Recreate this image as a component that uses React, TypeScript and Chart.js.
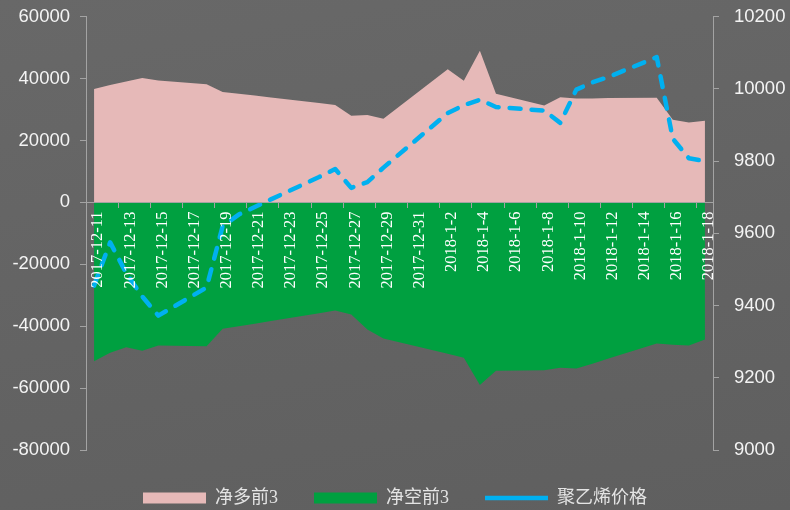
import React, { useEffect, useRef } from 'react';
import { Chart, registerables } from 'chart.js';

Chart.register(...registerables);

// every calendar day on the axis (labels shown every 2 days)
const axisDays = [
  '2017-12-11', '2017-12-12', '2017-12-13', '2017-12-14', '2017-12-15', '2017-12-16', '2017-12-17',
  '2017-12-18', '2017-12-19', '2017-12-20', '2017-12-21', '2017-12-22', '2017-12-23', '2017-12-24',
  '2017-12-25', '2017-12-26', '2017-12-27', '2017-12-28', '2017-12-29', '2017-12-30', '2017-12-31',
  '2018-1-1', '2018-1-2', '2018-1-3', '2018-1-4', '2018-1-5', '2018-1-6', '2018-1-7',
  '2018-1-8', '2018-1-9', '2018-1-10', '2018-1-11', '2018-1-12', '2018-1-13', '2018-1-14',
  '2018-1-15', '2018-1-16', '2018-1-17', '2018-1-18',
];

// trading days with data
const tradeDates = [
  '2017-12-11', '2017-12-12', '2017-12-13', '2017-12-14', '2017-12-15',
  '2017-12-18', '2017-12-19', '2017-12-20', '2017-12-21', '2017-12-22',
  '2017-12-25', '2017-12-26', '2017-12-27', '2017-12-28', '2017-12-29',
  '2018-1-2', '2018-1-3', '2018-1-4', '2018-1-5',
  '2018-1-8', '2018-1-9', '2018-1-10', '2018-1-11', '2018-1-12',
  '2018-1-15', '2018-1-16', '2018-1-17', '2018-1-18',
];

const netLongTop3 = [
  36600, 37900, 39100, 40200, 39400,
  38200, 35700, 35100, 34500, 33900,
  32100, 31500, 28000, 28200, 27000,
  43000, 39300, 49000, 35100,
  31300, 34000, 33600, 33600, 33700,
  33800, 26700, 25800, 26400,
];

const netShortTop3 = [
  -51300, -48600, -46800, -47900, -46200,
  -46500, -40800, -40000, -39200, -38300,
  -35800, -34900, -36200, -41100, -44000,
  -48900, -50200, -59000, -54400,
  -54200, -53400, -53700, -52100, -50400,
  -45600, -46000, -46200, -44300,
];

const pePrice = [
  9455, 9575, 9490, 9425, 9372,
  9450, 9620, 9652, 9673, 9694,
  9756, 9778, 9726, 9742, 9782,
  9933, 9955, 9970, 9950,
  9940, 9906, 9998, 10018, 10033,
  10088, 9862, 9808, 9800,
];

const seriesNames = ['净多前3', '净空前3', '聚乙烯价格'];

const AXIS_GRAY = '#a3a3a3';
const TICK_TEXT = '#f4f4f4';

export default function App() {
  const ref = useRef<HTMLCanvasElement>(null);

  useEffect(() => {
    if (!ref.current) return;
    const legendShift = {
      id: 'legendShift',
      afterLayout(chart: any) {
        const lg = chart.legend;
        if (lg) {
          lg.top += 3;
          lg.bottom += 3;
        }
      },
    };
    const toPoints = (vals: number[]) => tradeDates.map((d, i) => ({ x: d, y: vals[i] }));
    const yFit = (width: number) => (s: any) => {
      s.width = width;
      s.paddingTop = 0;
      s.paddingBottom = 0;
    };
    const chart = new Chart(ref.current, {
      type: 'line',
      data: {
        labels: axisDays,
        datasets: [
          {
            label: seriesNames[0],
            data: toPoints(netLongTop3) as any,
            backgroundColor: '#e6b9b8',
            borderColor: '#e6b9b8',
            borderWidth: 0,
            fill: 'origin',
            pointRadius: 0,
            pointHoverRadius: 0,
            pointStyle: 'rect',
            tension: 0,
            yAxisID: 'y',
            order: 2,
          },
          {
            label: seriesNames[1],
            data: toPoints(netShortTop3) as any,
            backgroundColor: '#00a040',
            borderColor: '#00a040',
            borderWidth: 0,
            fill: 'origin',
            pointRadius: 0,
            pointHoverRadius: 0,
            pointStyle: 'rect',
            tension: 0,
            yAxisID: 'y',
            order: 1,
          },
          {
            label: seriesNames[2],
            data: toPoints(pePrice) as any,
            backgroundColor: '#00b0f0',
            borderColor: '#00b0f0',
            borderWidth: 4.5,
            borderDash: [11, 11],
            borderCapStyle: 'round',
            borderJoinStyle: 'round',
            fill: false,
            pointRadius: 0,
            pointHoverRadius: 0,
            pointStyle: 'line',
            tension: 0,
            yAxisID: 'y1',
            order: 0,
          },
        ],
      },
      options: {
        responsive: false,
        animation: false,
        devicePixelRatio: 1,
        layout: { padding: { top: 16.7, bottom: 0, left: 0, right: 0 } },
        plugins: {
          filler: { propagate: false, drawTime: 'beforeDraw' } as any,
          tooltip: { enabled: false },
          legend: {
            position: 'bottom',
            maxHeight: 60,
            labels: {
              usePointStyle: true,
              pointStyleWidth: 63,
              boxHeight: 11,
              padding: 36,
              color: '#e4e4e4',
              font: { family: "'Liberation Serif', 'Noto Sans CJK SC', serif", size: 18 },
              sort: (a: any, b: any) => a.datasetIndex - b.datasetIndex,
            },
          },
        },
        scales: {
          x: {
            type: 'category',
            offset: true,
            position: { y: 0 } as any,
            grid: {
              display: true,
              drawOnChartArea: false,
              drawTicks: true,
              tickLength: 5,
              offset: true,
              z: 1,
              color: AXIS_GRAY,
              tickColor: (c: any) => (c.index % 2 === 0 ? AXIS_GRAY : 'rgba(0,0,0,0)'),
            },
            border: { display: true, color: AXIS_GRAY, width: 1, z: 1 },
            ticks: {
              autoSkip: false,
              maxRotation: 90,
              minRotation: 90,
              padding: 4,
              labelOffset: 4,
              z: 1,
              color: '#ffffff',
              font: { family: "'Liberation Serif', serif", size: 16.5 },
              callback: (_v: any, i: number) => (i % 2 === 0 ? axisDays[i] : ''),
            },
          },
          y: {
            type: 'linear',
            position: 'left',
            min: -80000,
            max: 60000,
            grid: { drawOnChartArea: false, drawTicks: true, tickLength: 6, color: AXIS_GRAY },
            border: { display: true, color: AXIS_GRAY, width: 1 },
            ticks: {
              stepSize: 20000,
              padding: 10,
              color: TICK_TEXT,
              font: { family: "'Liberation Sans', Arial, sans-serif", size: 18.5 },
              callback: (v: any) => String(v),
            },
            afterFit: yFit(86),
          },
          y1: {
            type: 'linear',
            position: 'right',
            min: 9000,
            max: 10200,
            grid: { drawOnChartArea: false, drawTicks: true, tickLength: 6, color: AXIS_GRAY },
            border: { display: true, color: AXIS_GRAY, width: 1 },
            ticks: {
              stepSize: 200,
              padding: 15,
              color: TICK_TEXT,
              font: { family: "'Liberation Sans', Arial, sans-serif", size: 18.5 },
              callback: (v: any) => String(v),
            },
            afterFit: yFit(77),
          },
        },
      },
      plugins: [legendShift],
    });
    return () => chart.destroy();
  }, []);

  return (
    <div
      style={{
        position: 'fixed',
        left: 0,
        top: 0,
        width: 790,
        height: 510,
        background: 'linear-gradient(170deg, #686868 0%, #636363 55%, #5f5f5f 100%)',
      }}
    >
      <canvas ref={ref} width={790} height={510} style={{ display: 'block' }} />
    </div>
  );
}
